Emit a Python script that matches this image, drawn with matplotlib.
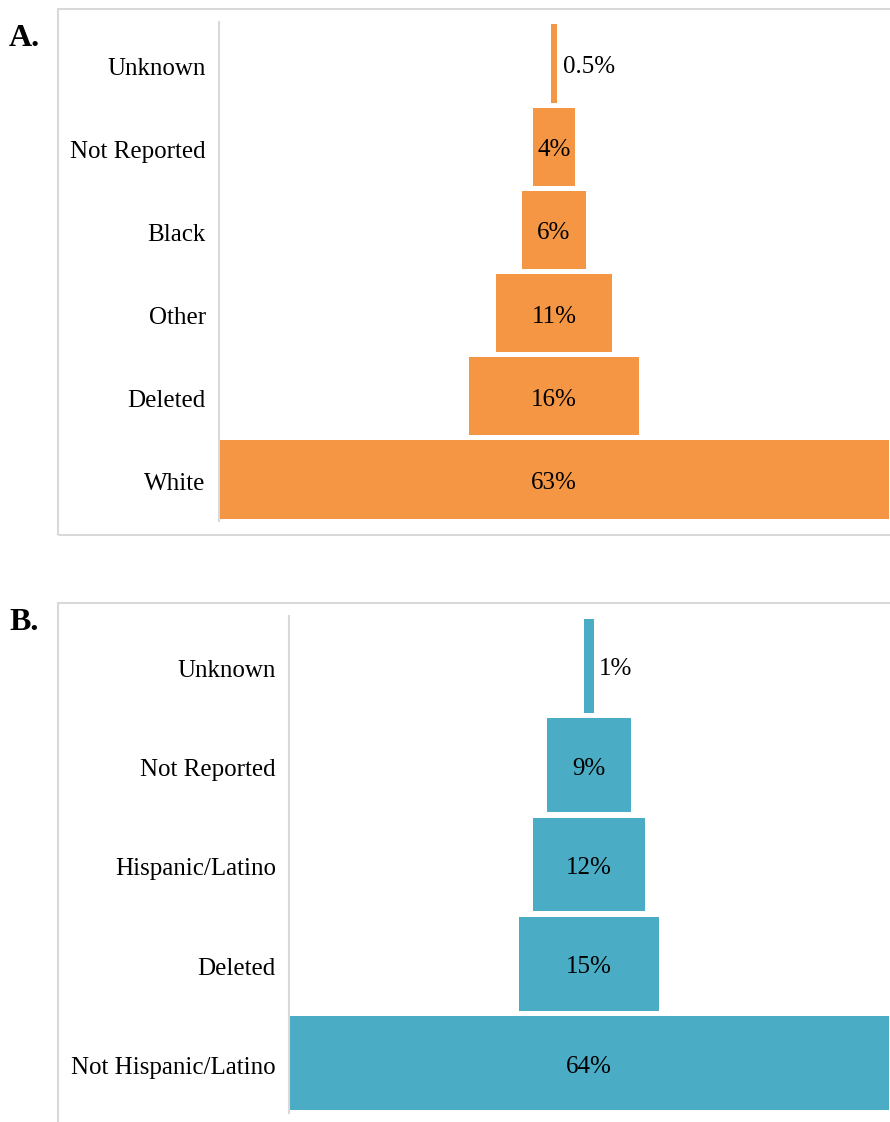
import matplotlib
matplotlib.use("Agg")
import matplotlib.pyplot as plt
from matplotlib.patches import Rectangle
from matplotlib.transforms import ScaledTranslation

plt.rcParams['font.family'] = ['Liberation Serif', 'DejaVu Serif']

# Panel A data (race)
race_categories = ["Unknown", "Not Reported", "Black", "Other", "Deleted", "White"]
race_values = [0.5, 4, 6, 11, 16, 63]
race_labels = ["0.5%", "4%", "6%", "11%", "16%", "63%"]

# Panel B data (ethnicity)
eth_categories = ["Unknown", "Not Reported", "Hispanic/Latino", "Deleted", "Not Hispanic/Latino"]
eth_values = [1, 9, 12, 15, 64]
eth_labels = ["1%", "9%", "12%", "15%", "64%"]

ORANGE = "#F59645"
BLUE = "#4BACC6"
FRAME = "#D9D9D9"
FS = 18

W, H = 890, 1122
fig = plt.figure(figsize=(W / 100, H / 100), dpi=100)


def fx(px):
    return px / W


def fy(py):
    return 1 - py / H


# frames
fig.patches.append(Rectangle((fx(58), fy(535)), fx(900) - fx(58), fy(9) - fy(535),
                             transform=fig.transFigure, fill=False, edgecolor=FRAME, lw=1.5))
fig.patches.append(Rectangle((fx(58), fy(1135)), fx(900) - fx(58), fy(603) - fy(1135),
                             transform=fig.transFigure, fill=False, edgecolor=FRAME, lw=1.5))

fig.text(fx(9), fy(39), "A.", fontsize=23, fontweight="bold", va="center", ha="left")
fig.text(fx(9), fy(623), "B.", fontsize=23, fontweight="bold", va="center", ha="left")

down = ScaledTranslation(0, -2.5 / 100, fig.dpi_scale_trans)


def funnel(rect, cats, vals, labels, color, height, small_thresh):
    ax = fig.add_axes(rect)
    n = len(cats)
    ys = list(range(n))
    vmax = max(vals)
    ax.barh(ys, vals, left=[-v / 2 for v in vals], height=height, color=color, edgecolor="none")
    for y, v, lab in zip(ys, vals, labels):
        if v <= small_thresh:
            t = ax.text(v / 2 + vmax * 0.009, y, lab, ha="left", va="center", fontsize=FS)
        else:
            t = ax.text(0, y, lab, ha="center", va="center", fontsize=FS)
        t.set_transform(ax.transData + ScaledTranslation(0, -3.5 / 100, fig.dpi_scale_trans))
    ax.set_xlim(-vmax / 2, vmax / 2)
    ax.set_ylim(n - 0.5, -0.5)
    ax.set_yticks(ys)
    ax.set_yticklabels(cats, fontsize=FS)
    ax.tick_params(axis="y", length=0, pad=9.5)
    for lab in ax.get_yticklabels():
        lab.set_transform(lab.get_transform() + down)
    ax.set_xticks([])
    for s in ["top", "right", "bottom"]:
        ax.spines[s].set_visible(False)
    ax.spines["left"].set_color(FRAME)
    ax.spines["left"].set_linewidth(1.5)
    return ax


funnel([fx(219), fy(521), fx(889) - fx(219), fy(22) - fy(521)],
       race_categories, race_values, race_labels, ORANGE, 0.94, 1)
funnel([fx(289), fy(1113), fx(889) - fx(289), fy(616) - fy(1113)],
       eth_categories, eth_values, eth_labels, BLUE, 0.945, 1)

fig.savefig("out.png", dpi=100)
